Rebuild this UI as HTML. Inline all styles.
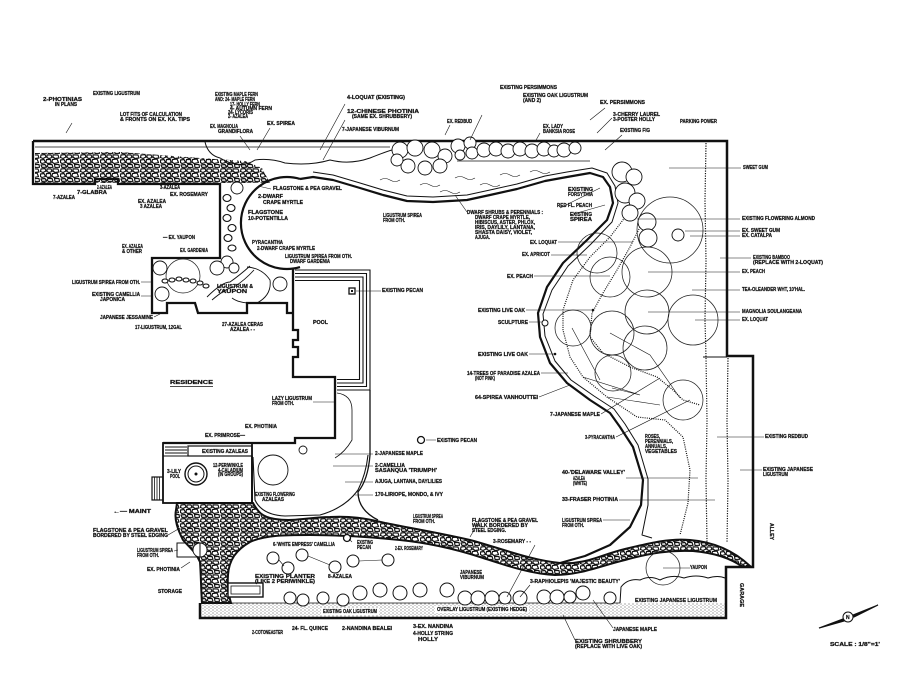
<!DOCTYPE html>
<html><head><meta charset="utf-8"><style>
html,body{margin:0;padding:0;background:#fff;}
svg{display:block}
text{font-family:"Liberation Sans",sans-serif;font-size:5px;font-weight:bold;fill:#151515;stroke:#151515;stroke-width:.25}
.l{stroke:#151515;stroke-width:.6;fill:none}
.k{stroke:#111;fill:none}
</style></head><body>
<svg width="900" height="695" viewBox="0 0 900 695" xmlns="http://www.w3.org/2000/svg">
<defs>
<pattern id="pb" width="20" height="14" patternUnits="userSpaceOnUse">
<rect width="20" height="14" fill="#fff"/>
<path d="M1,1 L5,0.5 L6,3 L3,4.5 L0.5,3.5 Z M7,1 L11,0.8 L12,3.5 L9,4.5 L7,3.5 Z M13,0.8 L18,1 L19,4 L15,4.5 L13,3 Z M0.5,6 L4,5.5 L5.5,8.5 L2,9.5 L0.5,8.5 Z M6.5,5.5 L10.5,5.5 L11,9 L7.5,9.5 L6,8 Z M12.5,5.5 L17,5 L18.5,8.5 L14,9.5 L12,8 Z M1,11 L5,10.5 L6.5,13.2 L2,13.4 Z M8,10.5 L12,10.5 L13,13.3 L8.5,13.4 L7,12 Z M14.5,10.5 L19,10.5 L19.5,13.3 L15,13.4 Z" fill="none" stroke="#111" stroke-width="1.15" stroke-linejoin="round"/>
</pattern>
<pattern id="st" width="4" height="3" patternUnits="userSpaceOnUse"><circle cx="1" cy="1" r=".55" fill="#333"/><circle cx="3" cy="2.3" r=".45" fill="#555"/></pattern>
</defs>
<rect width="900" height="695" fill="#fff"/>

<!-- top-left pebble strip -->
<path d="M35,153 L120,152 L200,158 L245,161 L262,168 L270,183 L35,183 Z" fill="url(#pb)"/>
<path class="k" stroke-width=".8" d="M35,147 L390,147"/>
<!-- bottom pebble band -->
<path d="M253,503 C258,512 262,517 275,519 C295,522 310,517 330,517 C350,516 365,518 385,523 C410,528 440,533 470,540 C500,548 530,560 560,563 C585,565 600,555 625,549 C650,543 670,538 690,540 C715,542 735,552 750,566 L743,567 C730,558 715,553 693,551 C670,550 650,553 625,560 C600,566 580,575 555,575 C530,574 505,565 480,557 C455,549 430,543 400,540 C370,537 340,535 310,535 C285,535 265,535 250,542 C236,550 229,560 228,575 C227,588 229,596 231,603 L202,603 C201,590 201,575 200,562 C196,552 188,546 183,540 C178,530 174,520 176,510 L177,503 Z" fill="url(#pb)" stroke="#111" stroke-width="2"/>

<!-- bottom stipple strip -->
<rect x="201" y="603" width="525" height="15" fill="url(#st)"/>
<path class="k" stroke-width=".8" d="M201,603 L620,603"/>
<rect x="321" y="608" width="58" height="7" fill="#fff"/>
<rect x="435" y="606" width="94" height="7" fill="#fff"/>

<!-- outer property line -->
<path class="k" stroke-width="2.5" d="M33,141 L727,141 L727,356 L753,356 L753,567 L726,567 L726,618 L200,618 L200,603"/>
<path class="k" stroke-width="2.3" d="M33,141 L33,184 L95,184 L95,179 L118,179 L118,184 L220,184 L220,258 L152,258 L152,313 L167,313 L167,303 L195,303 L198,313 L247,313 L247,303 L287,303 L287,313 L294,313"/>
<path class="k" stroke-width="2.3" d="M293,268 L293,330 L298,330 L298,340 L293,340 L293,347 L298,347 L298,357 L293,357 L293,377 L335,377 L335,438 L295,438 L295,443 L163,443"/>
<!-- fences -->
<path class="k" stroke-width="1.2" stroke-dasharray="1.2 1.3" d="M706,143 L705,200 L706,260 L705,320 L706,357 L707,420 L706,480 L707,543"/>
<path class="k" stroke-width="1.2" stroke-dasharray="1.2 1.3" d="M728,358 L727,420 L728,480 L727,543"/>
<path class="k" stroke-width=".9" d="M703,357 L727,357"/>

<!-- pool -->
<path class="k" stroke-width="1.1" d="M295,270 L370,270 L370,390 L337,390 M295,273.5 L366.5,273.5 L366.5,386.5 L337,386.5 M295,277 L363,277 L363,383 L337,383 M295,280.5 L359.5,280.5 L359.5,379.5 L337,379.5"/>
<rect x="349" y="288" width="6" height="6" fill="none" stroke="#111" stroke-width="1.3"/>
<rect x="351" y="290" width="2" height="2" fill="#111"/>

<!-- patio -->
<rect x="163" y="443" width="89" height="60" fill="none" stroke="#111" stroke-width="1.8"/>
<path class="k" stroke-width="1.1" d="M163,456 L252,456 M165,447 L187,447 M165,450 L187,450 M165,453 L187,453"/>
<rect x="188" y="446" width="64" height="10" fill="none" stroke="#111" stroke-width="1.2"/>
<rect x="152" y="477" width="11" height="23" fill="none" stroke="#111" stroke-width="1.2"/>
<path class="k" stroke-width=".8" d="M154.5,477 V500 M157,477 V500 M159.5,477 V500"/>
<circle cx="196" cy="474" r="11" fill="none" stroke="#111" stroke-width="1.4"/>
<circle cx="196" cy="474" r="8" fill="none" stroke="#111" stroke-width="1"/>
<circle cx="196" cy="474" r="1.5" fill="#111"/>
<path class="k" stroke-width="1.8" d="M252,456 L252,503"/>

<!-- lawn -->
<path class="k" stroke-width="2.2" d="M300,178.9 A46,46 0 1 0 300,267.1"/>
<path class="k" stroke-width="2.2" d="M300,179 L313,177 L333,180 L360,188 L383,195 L407,201 L433,202 L467,200 L490,195 L517,189 L545,181 L567,177 L590,173 L603,177 L610,187 L613,203 L607,220 L587,240 L563,263 L547,287 L538,313 L540,337 L550,363 L567,383 L590,400 L610,413 L620,427 L633,447 L643,480 L641,505 L630,527 L610,545 L585,556 L560,563" stroke-linejoin="round"/>
<path class="k" stroke-width="1" d="M313,172 L333,175 L360,183 L383,190 L407,196 L433,197 L467,195 L490,190 L517,184 L545,176 L567,172 L592,168 L607,173 L615,186 L618,203 L612,222 L591,244 L568,266 L552,290 L543,314 L545,336 L555,361 L571,380 L594,396 L614,409 L625,424 L638,445 L648,479 L648,505 L644,525 L642,535 L652,538" stroke-linejoin="round"/>
<path class="k" stroke-width="1.3" d="M370,390 L370,455 Q368,480 358,492 Q358,510 378,520"/>
<path class="k" stroke-width="1.1" d="M253,457 L255,500 Q262,515 285,516 L320,515 Q345,508 358,490 Q366,474 368,455"/>
<path class="k" stroke-width=".8" d="M337,393 Q352,395 352,410 L352,440 Q345,452 335,458"/>
<!-- fuzzy bed lines -->
<path class="k" stroke-width="1.2" stroke-dasharray="1 1.2" d="M630,203 L623,220 L610,237 L590,257 L573,280 L563,310 L563,330 L570,357 L583,377 L607,397 L637,417 L665,420 L683,437 L690,470 L688,503 L680,535"/>
<path class="k" stroke-width="1.2" stroke-dasharray="1 1.2" d="M640,227 L630,247 L617,270 L603,293 L592,313 L590,337 L603,353 L630,367 L657,377 L673,390 L683,400 L700,405"/>
<path class="l" d="M583,377 L640,395 L612,388 M607,397 L660,405"/>
<!-- big tree circles -->
<g fill="none" stroke="#222" stroke-width=".75">
<circle cx="670" cy="230" r="33"/><circle cx="647" cy="272" r="25"/><circle cx="610" cy="277" r="20"/>
<circle cx="647" cy="312" r="22"/><circle cx="693" cy="320" r="25"/><circle cx="612" cy="333" r="22"/>
<circle cx="645" cy="348" r="22"/><circle cx="573" cy="328" r="18"/><circle cx="613" cy="373" r="18"/>
<circle cx="683" cy="400" r="20"/><circle cx="597" cy="253" r="20"/><circle cx="663" cy="568" r="17"/>
<circle cx="183" cy="276" r="17"/>
</g>
<path class="l" d="M572,328 L600,380 M610,333 L650,355 L680,398"/>
<!-- shrub clouds -->
<g fill="#fff" stroke="#111" stroke-width=".9">
<circle cx="400" cy="150" r="8"/><circle cx="415" cy="148" r="8"/><circle cx="432" cy="150" r="8"/><circle cx="445" cy="156" r="7"/><circle cx="440" cy="166" r="7"/><circle cx="425" cy="168" r="7"/><circle cx="408" cy="166" r="7"/><circle cx="397" cy="160" r="6"/>
<circle cx="458" cy="146" r="7"/><circle cx="470" cy="143" r="6"/><circle cx="472" cy="153" r="6"/><circle cx="460" cy="155" r="5"/>
<circle cx="484" cy="150" r="7"/><circle cx="496" cy="149" r="7"/><circle cx="508" cy="151" r="7"/><circle cx="520" cy="149" r="7"/><circle cx="532" cy="151" r="7"/><circle cx="544" cy="149" r="7"/><circle cx="554" cy="151" r="6"/>
<circle cx="564" cy="150" r="7"/><circle cx="575" cy="148" r="6"/>
<circle cx="622" cy="172" r="10"/><circle cx="634" cy="177" r="8"/><circle cx="625" cy="193" r="10"/><circle cx="637" cy="201" r="8"/><circle cx="630" cy="213" r="8"/>
<circle cx="647" cy="222" r="9"/><circle cx="648" cy="238" r="9"/>
<circle cx="678" cy="235" r="6"/>
<circle cx="237" cy="188" r="6"/><circle cx="227" cy="262" r="6"/><circle cx="234" cy="268" r="5"/>
<circle cx="160" cy="268" r="7"/><circle cx="162" cy="294" r="7"/><circle cx="217" cy="268" r="7"/><circle cx="280" cy="284" r="7"/>
<circle cx="273" cy="470" r="15"/>
<circle cx="303" cy="450" r="4"/>
<circle cx="200" cy="550" r="7"/>
</g>
<!-- hedge outline top -->
<path class="k" stroke-width="1" d="M205,142 Q208,155 220,158 Q240,170 255,160 Q270,158 285,163 Q310,166 330,160 Q350,165 370,158 Q385,152 392,150"/>
<path class="k" stroke-width=".8" d="M457,161 L590,161"/>
<g class="l">
<path d="M455,178 q5,-3 10,0 t10,0 M480,185 q5,-3 10,0 t10,0 M500,175 q5,-3 10,0 t10,0 M420,185 q5,-3 10,0 t10,0 M530,172 q5,-3 10,0 t10,0 M380,180 q5,-3 10,0 t10,0 M440,192 q5,-3 10,0 t10,0"/>
</g>
<!-- flagstones walk -->
<g fill="#fff" stroke="#111" stroke-width="1.1">
<ellipse cx="227" cy="198" rx="4" ry="3.5"/><ellipse cx="231" cy="208" rx="4" ry="3.5"/><ellipse cx="227" cy="218" rx="4" ry="3.5"/><ellipse cx="232" cy="228" rx="4" ry="3.5"/><ellipse cx="228" cy="238" rx="4" ry="3.5"/><ellipse cx="232" cy="248" rx="4" ry="3"/>
<ellipse cx="165" cy="281" rx="3" ry="2"/><ellipse cx="172" cy="280" rx="3" ry="2"/><ellipse cx="179" cy="279" rx="3" ry="2"/><ellipse cx="186" cy="280" rx="3" ry="2"/><ellipse cx="193" cy="281" rx="3" ry="2"/><ellipse cx="200" cy="283" rx="3" ry="2"/><ellipse cx="206" cy="286" rx="3" ry="2"/>
</g>
<path class="k" stroke-width=".9" d="M207,297 Q222,282 230,282 Q240,275 250,266 M212,300 Q226,288 234,287 Q245,280 254,270"/>
<path class="k" stroke-width=".9" d="M247,267 Q262,268 270,280 Q272,295 257,303 Q240,304 232,298"/>
<!-- front bed shrubs -->
<g fill="#fff" stroke="#111" stroke-width="1">
<circle cx="290" cy="598" r="6"/><circle cx="303" cy="600" r="6"/><circle cx="323" cy="598" r="6"/><circle cx="343" cy="600" r="6"/><circle cx="360" cy="593" r="7"/><circle cx="380" cy="590" r="7"/><circle cx="400" cy="593" r="7"/><circle cx="420" cy="590" r="7"/><circle cx="447" cy="590" r="7"/>
<circle cx="465" cy="598" r="7"/><circle cx="478" cy="598" r="7"/><circle cx="492" cy="598" r="7"/><circle cx="505" cy="598" r="6"/><circle cx="520" cy="598" r="7"/>
<circle cx="544" cy="597" r="7"/><circle cx="557" cy="597" r="7"/><circle cx="570" cy="597" r="6"/><circle cx="583" cy="593" r="7"/><circle cx="610" cy="598" r="6"/>
<circle cx="273" cy="558" r="6"/><circle cx="302" cy="555" r="6"/><circle cx="288" cy="568" r="6"/><circle cx="335" cy="567" r="6"/><circle cx="353" cy="561" r="6"/><circle cx="388" cy="560" r="6"/>
</g>
<path class="l" d="M279,560 L284,566 M308,556 L330,565 M359,561 L382,560"/>
<path class="k" stroke-width="1" d="M620,603 L621,587 Q628,578 640,580 Q650,575 660,580 Q672,574 684,578 Q696,574 708,578 Q718,575 725,578"/>
<rect x="228" y="583" width="35" height="14" fill="#fff" stroke="#111" stroke-width="1.4"/>
<rect x="231" y="586" width="29" height="8" fill="none" stroke="#111" stroke-width=".8"/>
<rect x="177" y="543" width="23" height="14" fill="none" stroke="#111" stroke-width="1"/>
<!-- misc symbols -->
<circle cx="545" cy="323" r="3" fill="#fff" stroke="#111" stroke-width="1"/>
<circle cx="421" cy="440" r="3.5" fill="#fff" stroke="#111" stroke-width="1.3"/>
<circle cx="347" cy="538" r="3.5" fill="#fff" stroke="#111" stroke-width="1.3"/>
<circle cx="593" cy="310" r="1.3" fill="#111"/><circle cx="555" cy="354" r="1.3" fill="#111"/>
<!-- north arrow -->
<path d="M819,628 L843,619 L844,621 Z M853,615 L878,605 L854,617 Z" fill="#111" stroke="#111" stroke-width="1.2"/>
<circle cx="848" cy="617" r="5" fill="#fff" stroke="#111" stroke-width="1"/>
<text x="846" y="619" style="font-size:5px">N</text>

<!-- leader lines -->
<g class="l">
<path d="M669,168 L741,168 M637,219 L740,219 M685,231 L740,231 M690,236 L740,236 M720,258 L751,258 M648,272 L740,272 M692,290 L740,290 M648,312 L740,312 M695,320 L740,320"/>
<path d="M558,242 L633,242 M551,255 L587,255 M534,276 L610,276 M526,310 L593,310 M529,322 L542,322 M529,354 L555,354 M541,373 L568,373"/>
<path d="M539,397 L570,385 M601,414 L660,378 M616,437 L690,400 M717,437 L764,437 M740,470 L762,470 M626,478 L698,478 M619,500 L715,500 M603,520 L630,520"/>
<path d="M480,520 L470,537 M535,545 L507,597 M663,568 L690,568 M530,585 L520,597 M613,628 L593,600 M575,640 L563,615"/>
<path d="M335,454 L373,454 M333,466 L373,466 M345,482 L373,482 M355,495 L373,495 M426,440 L436,440 M313,402 L335,402 M356,291 L381,291"/>
<path d="M141,282 L152,282 M141,296 L152,296 M154,317 L160,314 M168,535 L180,528 M174,551 L178,550 M181,568 L190,562 M352,542 L349,539"/>
<path d="M72,123 L66,133 M270,128 L257,150 M240,136 L250,150 M345,104 L320,150 M345,120 L323,160 M482,115 L470,140 M540,133 L535,142 M605,108 L590,120 M612,118 L597,133 M622,135 L605,150 M450,125 L445,135 M467,212 L455,195 M271,189 L258,186 M560,208 L600,188 M570,215 L605,205"/>
</g>

<!-- labels -->
<g>
<text x="93" y="95" textLength="47" lengthAdjust="spacingAndGlyphs">EXISTING LIGUSTRUM</text>
<text x="43" y="101" textLength="39" lengthAdjust="spacingAndGlyphs">2-PHOTINIAS</text>
<text x="55" y="106" textLength="22" lengthAdjust="spacingAndGlyphs">IN PLANS</text>
<text x="120" y="116" textLength="62" lengthAdjust="spacingAndGlyphs">LOT FITS OF CALCULATION</text>
<text x="120" y="121" textLength="70" lengthAdjust="spacingAndGlyphs">&amp; FRONTS ON EX. KA. TIPS</text>
<text x="215" y="96" textLength="43" lengthAdjust="spacingAndGlyphs">EXISTING MAPLE FERN</text>
<text x="215" y="101" textLength="40" lengthAdjust="spacingAndGlyphs">AND: 24- MAPLE FERN</text>
<text x="230" y="106" textLength="30" lengthAdjust="spacingAndGlyphs">17- HOLLY FERN</text>
<text x="230" y="110" textLength="42" lengthAdjust="spacingAndGlyphs">4- AUTUMN FERN</text>
<text x="228" y="114" textLength="25" lengthAdjust="spacingAndGlyphs">24- LYCORIS</text>
<text x="228" y="118" textLength="20" lengthAdjust="spacingAndGlyphs">2- AZALEA</text>
<text x="210" y="128" textLength="28" lengthAdjust="spacingAndGlyphs">EX. MAGNOLIA</text>
<text x="218" y="133" textLength="35" lengthAdjust="spacingAndGlyphs">GRANDIFLORA</text>
<text x="267" y="125" textLength="28" lengthAdjust="spacingAndGlyphs">EX. SPIREA</text>
<text x="347" y="99" textLength="58" lengthAdjust="spacingAndGlyphs">4-LOQUAT (EXISTING)</text>
<text x="347" y="113" textLength="72" lengthAdjust="spacingAndGlyphs">12-CHINESE PHOTINIA</text>
<text x="352" y="118" textLength="60" lengthAdjust="spacingAndGlyphs">(SAME EX. SHRUBBERY)</text>
<text x="342" y="131" textLength="57" lengthAdjust="spacingAndGlyphs">7-JAPANESE VIBURNUM</text>
<text x="447" y="123" textLength="25" lengthAdjust="spacingAndGlyphs">EX. REDBUD</text>
<text x="500" y="89" textLength="57" lengthAdjust="spacingAndGlyphs">EXISTING PERSIMMONS</text>
<text x="523" y="97" textLength="65" lengthAdjust="spacingAndGlyphs">EXISTING OAK LIGUSTRUM</text>
<text x="523" y="102" textLength="18" lengthAdjust="spacingAndGlyphs">(AND 2)</text>
<text x="600" y="104" textLength="45" lengthAdjust="spacingAndGlyphs">EX. PERSIMMONS</text>
<text x="613" y="116" textLength="47" lengthAdjust="spacingAndGlyphs">3-CHERRY LAUREL</text>
<text x="613" y="121" textLength="42" lengthAdjust="spacingAndGlyphs">3-POSTER HOLLY</text>
<text x="680" y="123" textLength="37" lengthAdjust="spacingAndGlyphs">PARKING POWER</text>
<text x="620" y="132" textLength="30" lengthAdjust="spacingAndGlyphs">EXISTING FIG</text>
<text x="543" y="128" textLength="20" lengthAdjust="spacingAndGlyphs">EX. LADY</text>
<text x="543" y="133" textLength="32" lengthAdjust="spacingAndGlyphs">BANKSIA ROSE</text>

<text x="97" y="189" textLength="15" lengthAdjust="spacingAndGlyphs">2-AZALEA</text>
<text x="77" y="194" textLength="30" lengthAdjust="spacingAndGlyphs">7-GLABRA</text>
<text x="53" y="199" textLength="22" lengthAdjust="spacingAndGlyphs">7-AZALEA</text>
<text x="160" y="189" textLength="20" lengthAdjust="spacingAndGlyphs">3-AZALEA</text>
<text x="170" y="196" textLength="38" lengthAdjust="spacingAndGlyphs">EX. ROSEMARY</text>
<text x="138" y="203" textLength="28" lengthAdjust="spacingAndGlyphs">EX. AZALEA</text>
<text x="140" y="208" textLength="22" lengthAdjust="spacingAndGlyphs">3 AZALEA</text>
<text x="273" y="190" textLength="69" lengthAdjust="spacingAndGlyphs">FLAGSTONE &amp; PEA GRAVEL</text>
<text x="258" y="198" textLength="25" lengthAdjust="spacingAndGlyphs">2-DWARF</text>
<text x="263" y="204" textLength="40" lengthAdjust="spacingAndGlyphs">CRAPE MYRTLE</text>
<text x="248" y="214" textLength="35" lengthAdjust="spacingAndGlyphs">FLAGSTONE</text>
<text x="248" y="220" textLength="40" lengthAdjust="spacingAndGlyphs">10-POTENTILLA</text>
<text x="383" y="217" textLength="39" lengthAdjust="spacingAndGlyphs">LIGUSTRUM SPIREA</text>
<text x="383" y="222" textLength="22" lengthAdjust="spacingAndGlyphs">FROM OTH.</text>
<text x="163" y="239" textLength="32" lengthAdjust="spacingAndGlyphs">— EX. YAUPON</text>
<text x="122" y="248" textLength="21" lengthAdjust="spacingAndGlyphs">EX. AZALEA</text>
<text x="122" y="253" textLength="20" lengthAdjust="spacingAndGlyphs">&amp; OTHER</text>
<text x="180" y="252" textLength="28" lengthAdjust="spacingAndGlyphs">EX. GARDENIA</text>
<text x="252" y="244" textLength="31" lengthAdjust="spacingAndGlyphs">PYRACANTHA</text>
<text x="257" y="250" textLength="58" lengthAdjust="spacingAndGlyphs">2-DWARF CRAPE MYRTLE</text>
<text x="285" y="258" textLength="67" lengthAdjust="spacingAndGlyphs">LIGUSTRUM SPIREA FROM OTH.</text>
<text x="290" y="263" textLength="40" lengthAdjust="spacingAndGlyphs">DWARF GARDENIA</text>
<text x="72" y="284" textLength="68" lengthAdjust="spacingAndGlyphs">LIGUSTRUM SPIREA FROM OTH.</text>
<text x="92" y="296" textLength="48" lengthAdjust="spacingAndGlyphs">EXISTING CAMELLIA</text>
<text x="100" y="301" textLength="25" lengthAdjust="spacingAndGlyphs">JAPONICA</text>
<text x="100" y="319" textLength="53" lengthAdjust="spacingAndGlyphs">JAPANESE JESSAMINE</text>
<text x="135" y="329" textLength="47" lengthAdjust="spacingAndGlyphs">17-LIGUSTRUM, 12GAL</text>
<text x="217" y="288" textLength="36" lengthAdjust="spacingAndGlyphs">LIGUSTRUM &amp;</text>
<text x="217" y="293" textLength="30" lengthAdjust="spacingAndGlyphs">YAUPON</text>
<text x="222" y="326" textLength="41" lengthAdjust="spacingAndGlyphs">27-AZALEA CERAS</text>
<text x="230" y="331" textLength="25" lengthAdjust="spacingAndGlyphs">AZALEA - -</text>
<text x="382" y="292" textLength="41" lengthAdjust="spacingAndGlyphs">EXISTING PECAN</text>
<text x="313" y="324" textLength="15" lengthAdjust="spacingAndGlyphs">POOL</text>

<text x="743" y="169" textLength="25" lengthAdjust="spacingAndGlyphs">SWEET GUM</text>
<text x="568" y="191" textLength="25" lengthAdjust="spacingAndGlyphs">EXISTING</text>
<text x="568" y="196" textLength="25" lengthAdjust="spacingAndGlyphs">FORSYTHIA</text>
<text x="557" y="207" textLength="35" lengthAdjust="spacingAndGlyphs">RED FL. PEACH</text>
<text x="570" y="216" textLength="22" lengthAdjust="spacingAndGlyphs">EXISTING</text>
<text x="570" y="221" textLength="22" lengthAdjust="spacingAndGlyphs">SPIREA</text>
<text x="467" y="214" textLength="76" lengthAdjust="spacingAndGlyphs">DWARF SHRUBS &amp; PERENNIALS :</text>
<text x="475" y="219" textLength="55" lengthAdjust="spacingAndGlyphs">DWARF CRAPE MYRTLE,</text>
<text x="475" y="224" textLength="60" lengthAdjust="spacingAndGlyphs">HIBISCUS, ASTER, PHLOX,</text>
<text x="475" y="229" textLength="60" lengthAdjust="spacingAndGlyphs">IRIS, DAYLILY, LANTANA,</text>
<text x="475" y="234" textLength="57" lengthAdjust="spacingAndGlyphs">SHASTA DAISY, VIOLET,</text>
<text x="475" y="239" textLength="15" lengthAdjust="spacingAndGlyphs">AJUGA.</text>
<text x="742" y="220" textLength="73" lengthAdjust="spacingAndGlyphs">EXISTING FLOWERING ALMOND</text>
<text x="742" y="232" textLength="38" lengthAdjust="spacingAndGlyphs">EX. SWEET GUM</text>
<text x="742" y="237" textLength="30" lengthAdjust="spacingAndGlyphs">EX. CATALPA</text>
<text x="753" y="259" textLength="37" lengthAdjust="spacingAndGlyphs">EXISTING BAMBOO</text>
<text x="753" y="264" textLength="70" lengthAdjust="spacingAndGlyphs">(REPLACE WITH 2-LOQUAT)</text>
<text x="742" y="273" textLength="23" lengthAdjust="spacingAndGlyphs">EX. PEACH</text>
<text x="742" y="291" textLength="63" lengthAdjust="spacingAndGlyphs">TEA-OLEANDER WHT, 10'HAL.</text>
<text x="742" y="313" textLength="60" lengthAdjust="spacingAndGlyphs">MAGNOLIA SOULANGEANA</text>
<text x="742" y="321" textLength="26" lengthAdjust="spacingAndGlyphs">EX. LOQUAT</text>
<text x="530" y="244" textLength="27" lengthAdjust="spacingAndGlyphs">EX. LOQUAT</text>
<text x="522" y="256" textLength="28" lengthAdjust="spacingAndGlyphs">EX. APRICOT</text>
<text x="507" y="278" textLength="26" lengthAdjust="spacingAndGlyphs">EX. PEACH</text>
<text x="478" y="312" textLength="47" lengthAdjust="spacingAndGlyphs">EXISTING LIVE OAK</text>
<text x="498" y="324" textLength="30" lengthAdjust="spacingAndGlyphs">SCULPTURE</text>
<text x="478" y="356" textLength="50" lengthAdjust="spacingAndGlyphs">EXISTING LIVE OAK</text>
<text x="467" y="375" textLength="73" lengthAdjust="spacingAndGlyphs">14-TREES OF PARADISE AZALEA</text>
<text x="475" y="380" textLength="20" lengthAdjust="spacingAndGlyphs">(NOT PINK)</text>
<text x="475" y="399" textLength="63" lengthAdjust="spacingAndGlyphs">64-SPIREA VANHOUTTEI</text>
<text x="550" y="416" textLength="50" lengthAdjust="spacingAndGlyphs">7-JAPANESE MAPLE</text>
<text x="585" y="439" textLength="30" lengthAdjust="spacingAndGlyphs">3-PYRACANTHA</text>
<text x="645" y="438" textLength="15" lengthAdjust="spacingAndGlyphs">ROSES,</text>
<text x="645" y="443" textLength="28" lengthAdjust="spacingAndGlyphs">PERENNIALS,</text>
<text x="645" y="448" textLength="22" lengthAdjust="spacingAndGlyphs">ANNUALS,</text>
<text x="645" y="453" textLength="32" lengthAdjust="spacingAndGlyphs">VEGETABLES</text>
<text x="765" y="438" textLength="43" lengthAdjust="spacingAndGlyphs">EXISTING REDBUD</text>
<text x="763" y="471" textLength="50" lengthAdjust="spacingAndGlyphs">EXISTING JAPANESE</text>
<text x="763" y="476" textLength="25" lengthAdjust="spacingAndGlyphs">LIGUSTRUM</text>
<text x="562" y="474" textLength="63" lengthAdjust="spacingAndGlyphs">40-'DELAWARE VALLEY'</text>
<text x="573" y="480" textLength="12" lengthAdjust="spacingAndGlyphs">AZALEA</text>
<text x="573" y="485" textLength="14" lengthAdjust="spacingAndGlyphs">(WHITE)</text>
<text x="562" y="501" textLength="56" lengthAdjust="spacingAndGlyphs">33-FRASER PHOTINIA</text>
<text x="562" y="522" textLength="40" lengthAdjust="spacingAndGlyphs">LIGUSTRUM SPIREA</text>
<text x="562" y="527" textLength="22" lengthAdjust="spacingAndGlyphs">FROM OTH.</text>
<text x="472" y="522" textLength="66" lengthAdjust="spacingAndGlyphs">FLAGSTONE &amp; PEA GRAVEL</text>
<text x="472" y="527" textLength="56" lengthAdjust="spacingAndGlyphs">WALK BORDERED BY</text>
<text x="472" y="532" textLength="34" lengthAdjust="spacingAndGlyphs">STEEL EDGING.</text>
<text x="493" y="543" textLength="38" lengthAdjust="spacingAndGlyphs">3-ROSEMARY - -</text>
<text x="690" y="569" textLength="17" lengthAdjust="spacingAndGlyphs">YAUPON</text>
<text x="635" y="602" textLength="82" lengthAdjust="spacingAndGlyphs">EXISTING JAPANESE LIGUSTRUM</text>
<text x="530" y="583" textLength="90" lengthAdjust="spacingAndGlyphs">3-RAPHIOLEPIS 'MAJESTIC BEAUTY'</text>
<text x="613" y="631" textLength="44" lengthAdjust="spacingAndGlyphs">JAPANESE MAPLE</text>
<text x="575" y="643" textLength="67" lengthAdjust="spacingAndGlyphs">EXISTING SHRUBBERY</text>
<text x="575" y="648" textLength="67" lengthAdjust="spacingAndGlyphs">(REPLACE WITH LIVE OAK)</text>
<text x="830" y="646" textLength="50" lengthAdjust="spacingAndGlyphs">SCALE : 1/8"=1'</text>
<text x="460" y="574" textLength="22" lengthAdjust="spacingAndGlyphs">JAPANESE</text>
<text x="460" y="579" textLength="24" lengthAdjust="spacingAndGlyphs">VIBURNUM</text>
<text transform="translate(770,523) rotate(90)" textLength="17" lengthAdjust="spacingAndGlyphs">ALLEY</text>
<text transform="translate(740,583) rotate(90)" textLength="24" lengthAdjust="spacingAndGlyphs">GARAGE</text>

<text x="170" y="384" textLength="43" lengthAdjust="spacingAndGlyphs">RESIDENCE</text>
<path class="k" stroke-width=".8" d="M170,386.5 L213,386.5"/>
<text x="272" y="400" textLength="40" lengthAdjust="spacingAndGlyphs">LAZY LIGUSTRUM</text>
<text x="272" y="405" textLength="22" lengthAdjust="spacingAndGlyphs">FROM OTH.</text>
<text x="245" y="428" textLength="32" lengthAdjust="spacingAndGlyphs">EX. PHOTINIA</text>
<text x="205" y="437" textLength="40" lengthAdjust="spacingAndGlyphs">EX. PRIMROSE—</text>
<text x="202" y="453" textLength="46" lengthAdjust="spacingAndGlyphs">EXISTING AZALEAS</text>
<text x="213" y="467" textLength="30" lengthAdjust="spacingAndGlyphs">12-PERIWINKLE</text>
<text x="218" y="472" textLength="25" lengthAdjust="spacingAndGlyphs">4-CALADIUM</text>
<text x="218" y="476" textLength="25" lengthAdjust="spacingAndGlyphs">(IN GROUPS)</text>
<text x="167" y="473" textLength="14" lengthAdjust="spacingAndGlyphs">3-LILY</text>
<text x="170" y="478" textLength="10" lengthAdjust="spacingAndGlyphs">POOL</text>
<text x="255" y="496" textLength="40" lengthAdjust="spacingAndGlyphs">EXISTING FLOWERING</text>
<text x="262" y="501" textLength="22" lengthAdjust="spacingAndGlyphs">AZALEAS</text>
<text x="375" y="455" textLength="48" lengthAdjust="spacingAndGlyphs">2-JAPANESE MAPLE</text>
<text x="375" y="467" textLength="30" lengthAdjust="spacingAndGlyphs">2-CAMELLIA</text>
<text x="375" y="472" textLength="62" lengthAdjust="spacingAndGlyphs">SASANQUA 'TRIUMPH'</text>
<text x="375" y="483" textLength="67" lengthAdjust="spacingAndGlyphs">AJUGA, LANTANA, DAYLILIES</text>
<text x="375" y="496" textLength="68" lengthAdjust="spacingAndGlyphs">170-LIRIOPE, MONDO, &amp; IVY</text>
<text x="437" y="442" textLength="40" lengthAdjust="spacingAndGlyphs">EXISTING PECAN</text>
<text x="413" y="518" textLength="30" lengthAdjust="spacingAndGlyphs">LIGUSTRUM SPIREA</text>
<text x="413" y="523" textLength="22" lengthAdjust="spacingAndGlyphs">FROM OTH.</text>
<text x="357" y="544" textLength="16" lengthAdjust="spacingAndGlyphs">EXISTING</text>
<text x="357" y="549" textLength="14" lengthAdjust="spacingAndGlyphs">PECAN</text>
<text x="273" y="546" textLength="62" lengthAdjust="spacingAndGlyphs">6-'WHITE EMPRESS' CAMELLIA</text>
<text x="395" y="550" textLength="28" lengthAdjust="spacingAndGlyphs">2-EX. ROSEMARY</text>
<text x="255" y="578" textLength="60" lengthAdjust="spacingAndGlyphs">EXISTING PLANTER</text>
<text x="255" y="583" textLength="60" lengthAdjust="spacingAndGlyphs">(LIKE 2 PERIWINKLE)</text>
<text x="328" y="578" textLength="24" lengthAdjust="spacingAndGlyphs">8-AZALEA</text>
<text x="323" y="613" textLength="54" lengthAdjust="spacingAndGlyphs">EXISTING OAK LIGUSTRUM</text>
<text x="437" y="611" textLength="90" lengthAdjust="spacingAndGlyphs">OVERLAY LIGUSTRUM (EXISTING HEDGE)</text>
<text x="113" y="513" textLength="38" lengthAdjust="spacingAndGlyphs">&#8592;— MAINT</text>
<text x="93" y="532" textLength="75" lengthAdjust="spacingAndGlyphs">FLAGSTONE &amp; PEA GRAVEL</text>
<text x="93" y="537" textLength="75" lengthAdjust="spacingAndGlyphs">BORDERED BY STEEL EDGING</text>
<text x="137" y="552" textLength="36" lengthAdjust="spacingAndGlyphs">LIGUSTRUM SPIREA</text>
<text x="137" y="557" textLength="22" lengthAdjust="spacingAndGlyphs">FROM OTH.</text>
<text x="147" y="571" textLength="33" lengthAdjust="spacingAndGlyphs">EX. PHOTINIA</text>
<text x="158" y="593" textLength="24" lengthAdjust="spacingAndGlyphs">STORAGE</text>
<text x="252" y="634" textLength="31" lengthAdjust="spacingAndGlyphs">2-COTONEASTER</text>
<text x="292" y="630" textLength="36" lengthAdjust="spacingAndGlyphs">24- FL. QUINCE</text>
<text x="342" y="630" textLength="50" lengthAdjust="spacingAndGlyphs">2-NANDINA BEALEI</text>
<text x="413" y="628" textLength="40" lengthAdjust="spacingAndGlyphs">3-EX. NANDINA</text>
<text x="413" y="635" textLength="40" lengthAdjust="spacingAndGlyphs">4-HOLLY STRING</text>
<text x="418" y="641" textLength="20" lengthAdjust="spacingAndGlyphs">HOLLY</text>
</g>
</svg>
</body></html>
